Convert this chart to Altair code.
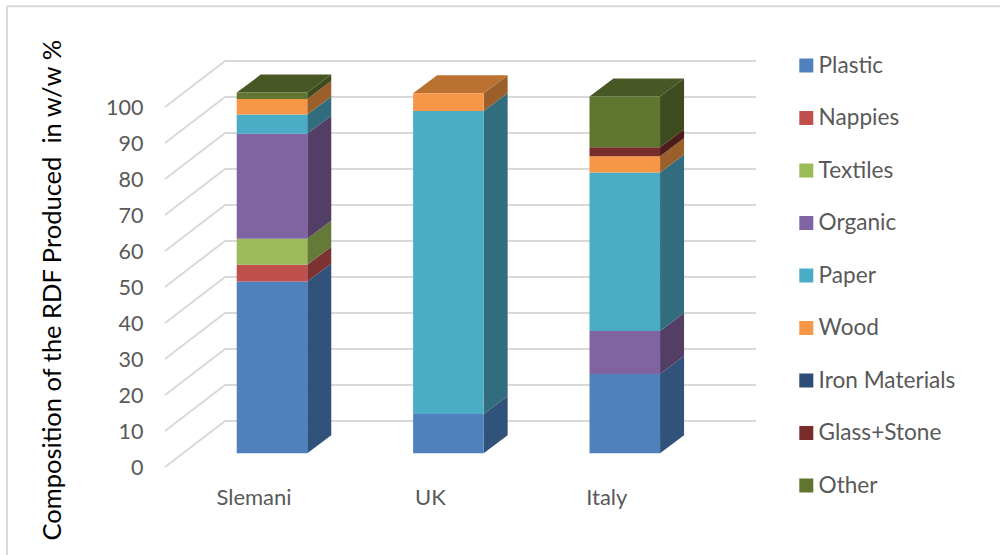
import altair as alt
import pandas as pd

# Composition per site, in stacking order (% w/w)
countries = ["Slemani", "UK", "Italy"]
materials = ["Plastic", "Nappies", "Textiles", "Organic", "Paper", "Wood",
             "Iron Materials", "Glass+Stone", "Other"]
plastic = [47.7, 10.9, 22.0]
nappies = [4.7, 0, 0]
textiles = [7.2, 0, 0]
organic = [29.2, 0, 12.0]
paper = [5.3, 84.2, 44.0]
wood = [4.3, 4.9, 4.5]
iron = [0, 0, 0]
glass = [0, 0, 2.5]
other = [1.8, 0, 14.1]
series = [plastic, nappies, textiles, organic, paper, wood, iron, glass, other]
y_ticks = list(range(0, 101, 10))

front_colors = ["#4f81bd", "#c0504d", "#9bbb59", "#8064a2", "#4bacc6", "#f79646",
                "#2c4d75", "#772c2a", "#5f7530"]
side_colors = ["#31527a", "#7b3230", "#637a39", "#533f66", "#316d7f", "#9b5f2c",
               "#1c3049", "#4d1c1b", "#3d4b1f"]
top_colors = ["#3e6796", "#9a403d", "#7c9647", "#665082", "#3c899e", "#bb7130",
              "#233d5d", "#5f2322", "#475825"]

# Oblique projection, in axis units
HALF = 0.2          # half a bar's width
DEPTH_X = 0.136     # bar depth along x
DEPTH_Y = 5.0       # bar depth along y
BAR_Y0 = 3.8        # bar floor above the axis plane
WALL_X = -0.266     # back wall corner
WALL_Y = 12.8       # back wall lift
X_MIN, X_MAX = -0.6066, 2.744

front, side, top = [], [], []
for i, country in enumerate(countries):
    base = BAR_Y0
    last = None
    for m, values in zip(materials, series):
        v = values[i]
        if v <= 0:
            continue
        lo, hi = base, base + v
        front.append(dict(material=m, x=i - HALF, x2=i + HALF, lo=lo, hi=hi))
        for dx, dy in ((0, 0), (DEPTH_X, DEPTH_Y)):
            side.append(dict(material=m, country=country, x=i + HALF + dx, lo=lo + dy, hi=hi + dy))
        base, last = hi, m
    top.extend([
        dict(material=last, country=country, x=i - HALF, lo=base, hi=base),
        dict(material=last, country=country, x=i - HALF + DEPTH_X, lo=base, hi=base + DEPTH_Y),
        dict(material=last, country=country, x=i + HALF, lo=base, hi=base + DEPTH_Y),
        dict(material=last, country=country, x=i + HALF + DEPTH_X, lo=base + DEPTH_Y, hi=base + DEPTH_Y),
    ])

grid = []
for t in y_ticks:
    grid.extend([
        dict(tick=t, x=X_MIN, y=t),
        dict(tick=t, x=WALL_X, y=t + WALL_Y),
        dict(tick=t, x=X_MAX, y=t + WALL_Y),
    ])

FONT = "Lato"
INK = "#595959"
x_scale = alt.Scale(domain=[X_MIN, X_MAX], nice=False, zero=False)
y_scale = alt.Scale(domain=[0, 113], nice=False)
y_axis = alt.Axis(
    values=y_ticks, grid=False, domain=False, ticks=False, labelPadding=22, labelOffset=1,
    labelFont=FONT, labelFontSize=21.5, labelColor=INK,
    title="Composition of the RDF Produced\u00a0 in w/w %",
    titleFont=FONT, titleFontSize=25.5, titleFontWeight="normal", titleColor="#000000",
    titleX=-100, titleY=229.5, titleAnchor="middle",
)
X = lambda f="x": alt.X(f"{f}:Q", scale=x_scale, axis=None)
Y = lambda f: alt.Y(f"{f}:Q", scale=y_scale, axis=y_axis)

grid_layer = alt.Chart(pd.DataFrame(grid)).mark_line(color="#d9d9d9", strokeWidth=2).encode(
    x=X(),
    y=Y("y"),
    detail="tick:N",
)

def face_layer(rows, colors):
    return alt.Chart(pd.DataFrame(rows)).mark_area(orient="vertical", interpolate="linear").encode(
        x=X(),
        y=Y("lo"),
        y2="hi:Q",
        color=alt.Color("material:N", scale=alt.Scale(domain=materials, range=colors), legend=None),
        detail=["country:N", "material:N"],
    )

front_layer = alt.Chart(pd.DataFrame(front)).mark_rect().encode(
    x=X(),
    x2="x2:Q",
    y=Y("lo"),
    y2="hi:Q",
    color=alt.Color("material:N", scale=alt.Scale(domain=materials, range=front_colors),
                    sort=materials,
                    legend=alt.Legend(
                        title=None, orient="none", legendX=630, legendY=-6, columns=1,
                        symbolType="square", symbolSize=196, symbolStrokeWidth=0,
                        labelFont=FONT, labelFontSize=22.6, labelColor=INK, labelOffset=1,
                        rowPadding=29.5)),
)

labels = alt.Chart(pd.DataFrame(dict(
    label=countries,
    x=[i - 0.102 for i in range(len(countries))],
    y=[-8.6] * len(countries),
))).mark_text(font=FONT, fontSize=22, color=INK, baseline="middle").encode(
    x=X(),
    y=Y("y"),
    text="label:N",
)

# Thin outline along the top and left of the figure
frame_top = alt.Chart(pd.DataFrame({"a": [0]})).mark_rule(color="#d9d9d9", strokeWidth=2).encode(
    x=alt.value(-158), x2=alt.value(835), y=alt.value(-54))
frame_left = alt.Chart(pd.DataFrame({"a": [0]})).mark_rule(color="#d9d9d9", strokeWidth=2).encode(
    x=alt.value(-158), y=alt.value(-54), y2=alt.value(495))

chart = alt.layer(
    frame_top, frame_left, grid_layer,
    face_layer(side, side_colors), face_layer(top, top_colors),
    front_layer, labels,
).resolve_scale(color="independent").properties(
    width=591, height=406.8,
    autosize=alt.AutoSizeParams(type="none"),
    padding={"left": 165, "top": 60.2, "right": 244, "bottom": 88},
).configure_view(strokeWidth=0)

chart.save("out.html", embed_options={"renderer": "svg", "actions": False})
